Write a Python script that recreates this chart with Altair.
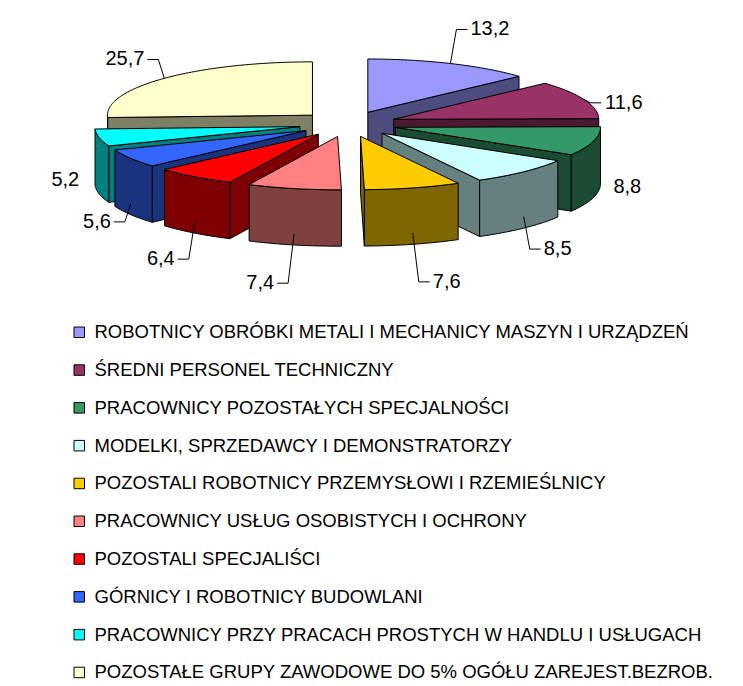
import math
import altair as alt
import pandas as pd

# ---------------- data ----------------
categories = [
    "ROBOTNICY OBRÓBKI METALI I MECHANICY MASZYN I URZĄDZEŃ",
    "ŚREDNI PERSONEL TECHNICZNY",
    "PRACOWNICY POZOSTAŁYCH SPECJALNOŚCI",
    "MODELKI, SPRZEDAWCY I DEMONSTRATORZY",
    "POZOSTALI ROBOTNICY PRZEMYSŁOWI I RZEMIEŚLNICY",
    "PRACOWNICY USŁUG OSOBISTYCH I OCHRONY",
    "POZOSTALI SPECJALIŚCI",
    "GÓRNICY I ROBOTNICY BUDOWLANI",
    "PRACOWNICY PRZY PRACACH PROSTYCH W HANDLU I USŁUGACH",
    "POZOSTAŁE GRUPY ZAWODOWE DO  5%  OGÓŁU ZAREJEST.BEZROB.",
]
values = [13.2, 11.6, 8.8, 8.5, 7.6, 7.4, 6.4, 5.6, 5.2, 25.7]
colors = ["#9999FF", "#993366", "#339966", "#CCFFFF", "#FFCC00",
          "#FF8080", "#FF0000", "#3366FF", "#00FFFF", "#FFFFCC"]

# ---------------- 3D pie geometry (derived from the values) ----------------
RX, RY, DEPTH, EXPLODE = 1.0, 0.26, 0.275, 0.24
SCALE = 205
CENTER = [340, 116]
FS_LABEL = 20
LABEL_GAP = 20        # px between slice and label
LABEL_DY = 68         # px vertical push of labels away from the pie
FONT = "Liberation Sans"


def darker(hexc):
    r, g, b = (int(hexc[i:i + 2], 16) for i in (1, 3, 5))
    return "#%02X%02X%02X" % (r // 2, g // 2, b // 2)


def rim(t, z, ox, oy):
    return [ox + RX * math.sin(t), oy + RY * math.cos(t) + z]


def arc(t0, t1, z, ox, oy):
    n = max(2, int(abs(math.degrees(t1 - t0))) + 1)
    return [rim(t0 + (t1 - t0) * k / (n - 1), z, ox, oy) for k in range(n)]


total = sum(values)
slices = []
cum = 0.0
for cat, v, col in zip(categories, values, colors):
    a0 = 2 * math.pi * cum / total
    cum += v
    a1 = 2 * math.pi * cum / total
    m = (a0 + a1) / 2
    ox, oy = EXPLODE * RX * math.sin(m), EXPLODE * RY * math.cos(m)
    slices.append(dict(cat=cat, v=v, col=col, a0=a0, a1=a1, m=m, ox=ox, oy=oy))


def poly(coords, key):
    coords = coords + [coords[0]]
    return {"type": "Feature", "properties": {"key": key},
            "geometry": {"type": "Polygon", "coordinates": [coords]}}


features = []
for s in sorted(slices, key=lambda s: -math.cos(s["m"])):
    a0, a1, ox, oy = s["a0"], s["a1"], s["ox"], s["oy"]
    side = s["cat"] + "|side"
    ctop, cbot = [ox, oy], [ox, oy - DEPTH]
    if math.sin(a0) < -1e-6:
        features.append(poly([ctop, rim(a0, 0, ox, oy), rim(a0, -DEPTH, ox, oy), cbot], side))
    if math.sin(a1) > 1e-6:
        features.append(poly([ctop, rim(a1, 0, ox, oy), rim(a1, -DEPTH, ox, oy), cbot], side))
    t0, t1 = max(a0, math.pi / 2), min(a1, 3 * math.pi / 2)
    if t1 > t0:
        features.append(poly(arc(t0, t1, 0, ox, oy) + arc(t1, t0, -DEPTH, ox, oy), side))
    features.append(poly([ctop] + arc(a0, a1, 0, ox, oy), s["cat"]))

# labels and leader lines (placed just outside each slice's mid-angle)
label_rows = []
leaders = []
for s in slices:
    m = s["m"]
    txt = f"{s['v']:.1f}".replace(".", ",")
    half_w = FS_LABEL * (0.556 * sum(c.isdigit() for c in txt) + 0.278) / 2 / SCALE
    sgn = 1 if math.sin(m) > 0 else -1
    mid = rim(m, -DEPTH / 2, s["ox"], s["oy"])
    lx = mid[0] + sgn * (LABEL_GAP / SCALE + half_w)
    ly = mid[1] + LABEL_DY / SCALE * math.cos(m)
    label_rows.append({"lon": lx, "lat": ly, "text": txt})
    if abs(math.cos(m)) > 0.3:
        z = 0 if math.cos(m) > 0 else -0.8 * DEPTH
        start = rim(m, z, s["ox"], s["oy"])
        elbow = [lx - sgn * (half_w + 14 / SCALE), ly]
        end = [lx - sgn * (half_w + 3 / SCALE), ly]
        leaders.append({"type": "Feature", "properties": {},
                        "geometry": {"type": "LineString", "coordinates": [start, elbow, end]}})

proj = dict(type="identity", reflectY=True, scale=SCALE, translate=CENTER)

fill_domain = categories + [c + "|side" for c in categories]
fill_range = colors + [darker(c) for c in colors]

shapes = alt.Chart(alt.Data(values=features)).mark_geoshape(
    stroke="black", strokeWidth=1, strokeJoin="miter"
).encode(
    color=alt.Color(
        "properties.key:N",
        scale=alt.Scale(domain=fill_domain, range=fill_range),
        legend=alt.Legend(
            title=None, orient="none", legendX=62, legendY=315,
            values=categories, direction="vertical",
            symbolType="square", symbolSize=110, symbolStrokeColor="black",
            symbolStrokeWidth=1, symbolOpacity=1,
            labelFont=FONT, labelFontSize=18.5, labelColor="black",
            labelLimit=700, labelOffset=6, rowPadding=18.8, padding=0,
        ),
    )
).project(**proj)

leader_layer = alt.Chart(alt.Data(values=leaders)).mark_geoshape(
    filled=False, stroke="black", strokeWidth=1
).project(**proj)

texts = alt.Chart(pd.DataFrame(label_rows)).mark_text(
    font=FONT, fontSize=FS_LABEL, color="black", align="center", baseline="middle"
).encode(
    longitude="lon:Q", latitude="lat:Q", text="text:N"
).project(**proj)

chart = alt.layer(shapes, leader_layer, texts).properties(
    width=727, height=678, padding=0, autosize="none"
).configure_view(stroke=None)

chart.save("out.html", embed_options={"renderer": "svg", "actions": False})
